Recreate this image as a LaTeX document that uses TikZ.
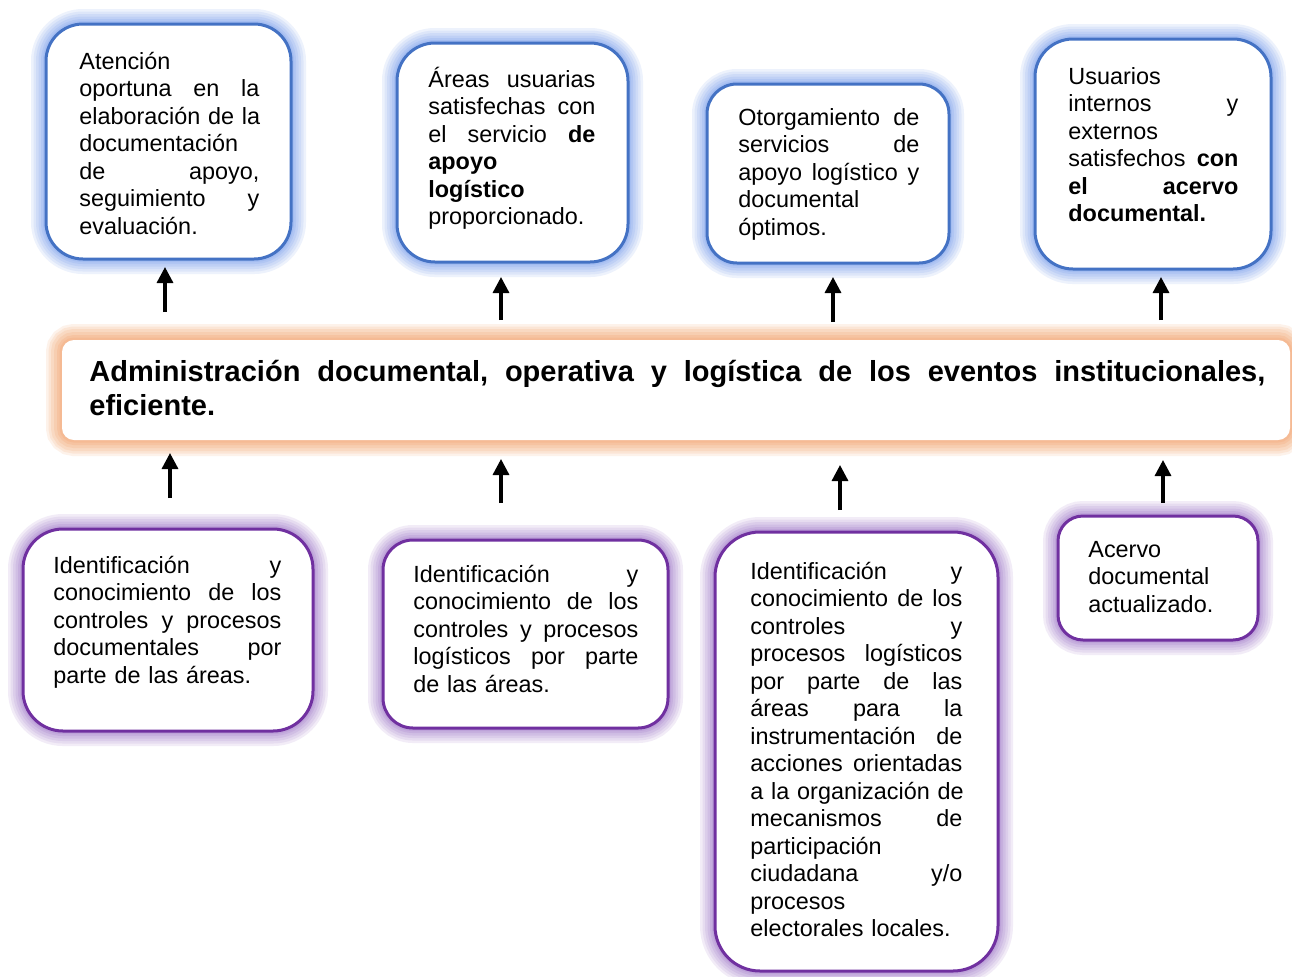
\documentclass[tikz,border=0pt]{standalone}
\usepackage{fontspec}
\setmainfont{Liberation Sans}
\usetikzlibrary{arrows.meta}
\definecolor{bborder}{RGB}{68,114,196}
\definecolor{bglow}{RGB}{110,150,235}
\definecolor{pborder}{RGB}{112,48,160}
\definecolor{pglow}{RGB}{150,105,195}
\definecolor{oglow}{RGB}{242,150,90}
\newlength\jw
\newcommand\J[1]{\leavevmode\hbox to \jw{#1}}
\tikzset{
  glow/.style={
    preaction={draw=#1,line width=15pt,opacity=.12},
    preaction={draw=#1,line width=12.5pt,opacity=.12},
    preaction={draw=#1,line width=10pt,opacity=.13},
    preaction={draw=#1,line width=7.5pt,opacity=.15},
    preaction={draw=#1,line width=5pt,opacity=.17},
    preaction={draw=#1,line width=3pt,opacity=.18}},
  oglowst/.style={
    preaction={draw=#1,line width=16pt,opacity=.12},
    preaction={draw=#1,line width=13.5pt,opacity=.14},
    preaction={draw=#1,line width=11pt,opacity=.15},
    preaction={draw=#1,line width=8pt,opacity=.16},
    preaction={draw=#1,line width=5pt,opacity=.18},
    preaction={draw=#1,line width=2.5pt,opacity=.18}},
  boxbase/.style={rectangle, fill=white, inner sep=0pt, line width=1.5pt},
  bluebox/.style={boxbase, glow=bglow, draw=bborder},
  purplebox/.style={boxbase, glow=pglow, draw=pborder},
  orangebox/.style={boxbase, oglowst=oglow, draw=none},
  tw/.style={text width=#1, execute at begin node={\setlength\jw{#1}}},
  txt/.style={anchor=north west, inner sep=0pt, align=left,
    font=\fontsize{11.7pt}{13.75pt}\selectfont},
  bigtxt/.style={anchor=north west, inner sep=0pt, align=left,
    font=\fontsize{14.5pt}{17pt}\selectfont\bfseries},
  arr/.style={line width=1.65pt, -{Triangle[length=8pt,width=8pt]}}
}
\begin{document}
\begin{tikzpicture}[x=0.5pt,y=-0.5pt]
\useasboundingbox (0,0) rectangle (1292,976);
\clip (0,0) rectangle (1292,976);
\fill[white] (0,0) rectangle (1292,976);

% top boxes
\node[bluebox, rounded corners=18.5pt, minimum width=122.5pt, minimum height=117.5pt] (t1) at (168.5,141.5) {};
\node[bluebox, rounded corners=19pt, minimum width=115.5pt, minimum height=109.5pt] (t2) at (512.5,152.5) {};
\node[bluebox, rounded corners=15pt, minimum width=121pt, minimum height=89.5pt] (t3) at (828,173.5) {};
\node[bluebox, rounded corners=19pt, minimum width=118pt, minimum height=115pt] (t4) at (1153,154) {};

% central box
\node[orangebox, rounded corners=6pt, minimum width=614pt, minimum height=50pt] (c) at (676,390) {};

% bottom boxes
\node[purplebox, rounded corners=20pt, minimum width=145pt, minimum height=101pt] (b1) at (168,630) {};
\node[purplebox, rounded corners=15pt, minimum width=142.5pt, minimum height=94pt] (b2) at (525.5,634) {};
\node[purplebox, rounded corners=22.5pt, minimum width=141.5pt, minimum height=219.5pt] (b3) at (856.5,751.5) {};
\node[purplebox, rounded corners=12.5pt, minimum width=100pt, minimum height=62pt] (b4) at (1158,578) {};

% texts
\node[txt, tw=90pt] (t1txt) at (79,49.75) {\strut Atención\\
 \J{oportuna \hfill en \hfill la}\\
 \J{elaboración \hfill de \hfill la}\\
 documentación\\
 \J{de \hfill apoyo,}\\
 \J{seguimiento \hfill y}\\
 evaluación.};
\node[txt, tw=83.5pt] (t2txt) at (428,66.75) {\J{\strut Áreas \hfill usuarias}\\
 \J{satisfechas \hfill con}\\
 \J{el \hfill servicio \hfill \textbf{de}}\\
 \textbf{apoyo}\\
 \textbf{logístico}\\
 proporcionado.};
\node[txt, tw=90.5pt] (t3txt) at (738,105.75) {\J{\strut Otorgamiento \hfill de}\\
 \J{servicios \hfill de}\\
 \J{apoyo \hfill logístico \hfill y}\\
 documental\\
 óptimos.};
\node[txt, tw=85pt] (t4txt) at (1068,64.75) {\strut Usuarios\\
 \J{internos \hfill y}\\
 externos\\
 \J{satisfechos \hfill \textbf{con}}\\
 \J{\textbf{el \hfill acervo}}\\
 \textbf{documental.}};

\node[bigtxt, tw=588pt] (ctxt) at (89,357.2) {\J{\strut Administración \hfill documental, \hfill operativa \hfill y \hfill logística \hfill de \hfill los \hfill eventos \hfill institucionales,}\\
 eficiente.};

\node[txt, tw=114pt] (b1txt) at (53,553.75) {\J{\strut Identificación \hfill y}\\
 \J{conocimiento \hfill de \hfill los}\\
 \J{controles \hfill y \hfill procesos}\\
 \J{documentales \hfill por}\\
 parte de las áreas.};
\node[txt, tw=112.5pt] (b2txt) at (413,562.75) {\J{\strut Identificación \hfill y}\\
 \J{conocimiento \hfill de \hfill los}\\
 \J{controles \hfill y \hfill procesos}\\
 \J{logísticos \hfill por \hfill parte}\\
 de las áreas.};
\node[txt, tw=106pt] (b3txt) at (750,559.75) {\J{\strut Identificación \hfill y}\\
 \J{conocimiento \hfill de \hfill los}\\
 \J{controles \hfill y}\\
 \J{procesos \hfill logísticos}\\
 \J{por \hfill parte \hfill de \hfill las}\\
 \J{áreas \hfill para \hfill la}\\
 \J{instrumentación \hfill de}\\
 \J{acciones \hfill orientadas}\\
 \J{a \hfill la \hfill organización \hfill de}\\
 \J{mecanismos \hfill de}\\
 participación\\
 \J{ciudadana \hfill y/o}\\
 procesos\\
 electorales locales.};
\node[txt, tw=70pt] (b4txt) at (1088,537.75) {\strut Acervo\\ documental\\ actualizado.};

% arrows
\coordinate (u1s) at (165,312); \coordinate (u1e) at (165,267);
\coordinate (u2s) at (501,320); \coordinate (u2e) at (501,277);
\coordinate (u3s) at (833,322); \coordinate (u3e) at (833,277);
\coordinate (u4s) at (1161,320); \coordinate (u4e) at (1161,277);
\coordinate (d1s) at (170,498); \coordinate (d1e) at (170,453);
\coordinate (d2s) at (501,503); \coordinate (d2e) at (501,459);
\coordinate (d3s) at (840,510); \coordinate (d3e) at (840,465);
\coordinate (d4s) at (1163,503); \coordinate (d4e) at (1163,460);
\foreach \a in {u1,u2,u3,u4,d1,d2,d3,d4}
  \draw[arr] (\a s) -- (\a e);
\end{tikzpicture}
\end{document}
